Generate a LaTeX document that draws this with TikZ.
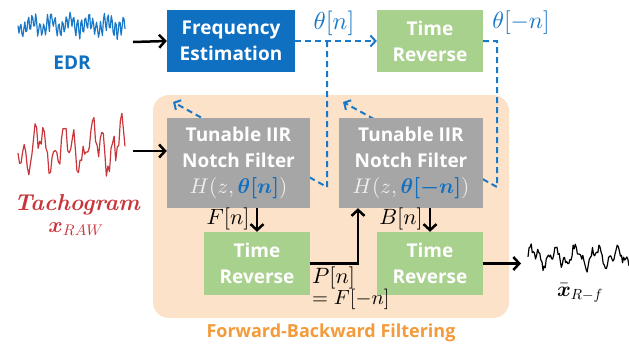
\documentclass[tikz,border=0pt]{standalone}
\usepackage{amsmath}
\usepackage{fontspec}
\setsansfont{Open Sans}
\DeclareFontShape{OML}{cmm}{m}{it}{<->cmmi10}{}
\DeclareFontShape{OML}{cmm}{b}{it}{<->cmmib10}{}
\DeclareFontShape{OMS}{cmsy}{m}{n}{<->cmsy10}{}
\DeclareFontShape{OMS}{cmsy}{b}{n}{<->cmbsy10}{}
\DeclareFontShape{OT1}{cmr}{m}{n}{<->cmr10}{}
\DeclareFontShape{OT1}{cmr}{bx}{n}{<->cmbx10}{}
\usetikzlibrary{arrows.meta,calc}
\definecolor{fblue}{HTML}{0F6FC1}
\definecolor{dblue}{HTML}{1A78C8}
\definecolor{tgreen}{HTML}{A9D18E}
\definecolor{fgray}{HTML}{A6A6A6}
\definecolor{bgorange}{HTML}{FCE2C8}
\definecolor{torange}{HTML}{F39B3A}
\definecolor{tred}{HTML}{C8363C}
\definecolor{hgray}{HTML}{EFEFEF}
\tikzset{
  box/.style={draw=none, align=center, text=white, inner sep=0pt,
    font=\sffamily\bfseries\fontsize{19}{26}\selectfont},
  blk/.style={line width=2.5pt, -{Straight Barb[length=6pt,width=13pt]}},
  dsh/.style={dblue, line width=2pt, dash pattern=on 6pt off 4pt},
  dsharr/.style={dsh, -{Straight Barb[length=5pt,width=11pt]}},
  mlab/.style={font=\fontsize{20.5}{22}\selectfont, inner sep=0pt},
  wave/.style={line width=1.2pt, line join=round}
}
\begin{document}
\begin{tikzpicture}[x=1pt,y=-1pt]
\useasboundingbox (0,0) rectangle (629,349);
% background
\fill[bgorange, rounded corners=16pt] (153,95) rectangle (509,318);
\node[font=\sffamily\bfseries\fontsize{18}{20}\selectfont, text=torange] (fbf) at (331,333) {Forward-Backward Filtering};

% boxes
\node[box, fill=fblue, minimum width=128pt, minimum height=62pt] (fe) at (231,41) {Frequency\\Estimation};
\node[box, fill=tgreen, minimum width=106pt, minimum height=62pt] (tr1) at (430,41) {Time\\Reverse};

% dashed theta paths (drawn below filter boxes)
\coordinate (br1) at (327,41);
\coordinate (bd1) at (327,187);
\coordinate (tip1) at (173,102);
\coordinate (br2) at (497,41);
\coordinate (bd2) at (497,187);
\coordinate (tip2) at (343,102);
\draw[dsharr] (fe.east) -- (tr1.west);
\draw[dsharr] (br1) -- (bd1) -- (tip1);
\draw[dsharr] (tr1.east) -- (br2) -- (bd2) -- (tip2);
\node[mlab, text=dblue] (thn) at (334,23) {\scalebox{1.2}{$\theta[n]$}};
\node[mlab, text=dblue] (thmn) at (521,23) {\scalebox{1.15}{$\theta[-n]$}};

\node[box, fill=fgray, minimum width=143pt, minimum height=90pt] (f1) at (238.5,163)
  {Tunable IIR\\Notch Filter\\{\mdseries\color{hgray}\scalebox{1.12}{$H(z,\textcolor{fblue}{\boldsymbol{\theta[n]}})$}}};
\node[box, fill=fgray, minimum width=144pt, minimum height=90pt] (f2) at (411,163)
  {Tunable IIR\\Notch Filter\\{\mdseries\color{hgray}\scalebox{1.12}{$H(z,\textcolor{fblue}{\boldsymbol{\theta[-n]}})$}}};
\node[box, fill=tgreen, minimum width=106pt, minimum height=63pt] (tr2) at (257,263.5) {Time\\Reverse};
\node[box, fill=tgreen, minimum width=106pt, minimum height=63pt] (tr3) at (430,263.5) {Time\\Reverse};

% solid connectors
\coordinate (edrend) at (133,42);
\coordinate (tacend) at (133,151);
\coordinate (pturn) at (358,263.5);
\coordinate (outend) at (521,263.5);
\draw[blk] (edrend) -- (fe.west);
\draw[blk] (tacend) -- (tacend -| f1.west);
\draw[blk] (tr2.north |- f1.south) -- (tr2.north);
\draw[blk] (tr2.east) -- (pturn) -- (pturn |- f2.south);
\draw[blk] (tr3.north |- f2.south) -- (tr3.north);
\draw[blk] (tr3.east) -- (outend);

% math labels
\node[mlab] (fn) at (228,219) {\scalebox{1.08}{$F[n]$}};
\node[mlab] (bn) at (401,219) {\scalebox{1.08}{$B[n]$}};
\node[mlab, anchor=west] (pn) at (312,278) {\scalebox{1.08}{$P[n]$}};
\node[mlab, anchor=west] (pf) at (312,299) {$=F[-n]$};

% signal labels
\node[font=\sffamily\bfseries\fontsize{19}{20}\selectfont, text=fblue] (edr) at (72,63) {EDR};
\node[font=\rmfamily\bfseries\itshape\fontsize{23}{24}\selectfont, text=tred] (tac) at (77,205) {Tachogram};
\node[font=\fontsize{22}{24}\selectfont, text=tred] (xraw) at (76,229) {$\boldsymbol{x}_{RAW}$};
\node[font=\fontsize{21}{24}\selectfont, inner sep=0pt] (xout) at (580,293) {$\bar{\boldsymbol{x}}_{R-f}$};

% waveforms
\pgfmathsetseed{7}
\draw[wave, dblue] plot[domain=0:107, samples=110] ({18+\x}, {25 + 8*sin(\x*95) + 5*sin(\x*19) + 3*rand});
\pgfmathsetseed{11}
\draw[wave, tred] plot[domain=0:107, samples=70] ({18+\x}, {148 + 14*sin(\x*37+20) + 13*sin(\x*13) + 9*rand});
\pgfmathsetseed{5}
\draw[wave, black] plot[domain=0:101, samples=95] ({528+\x}, {257 - 7*sin(\x*17) - 5*sin(\x*41) + 4*rand});
\end{tikzpicture}
\end{document}
